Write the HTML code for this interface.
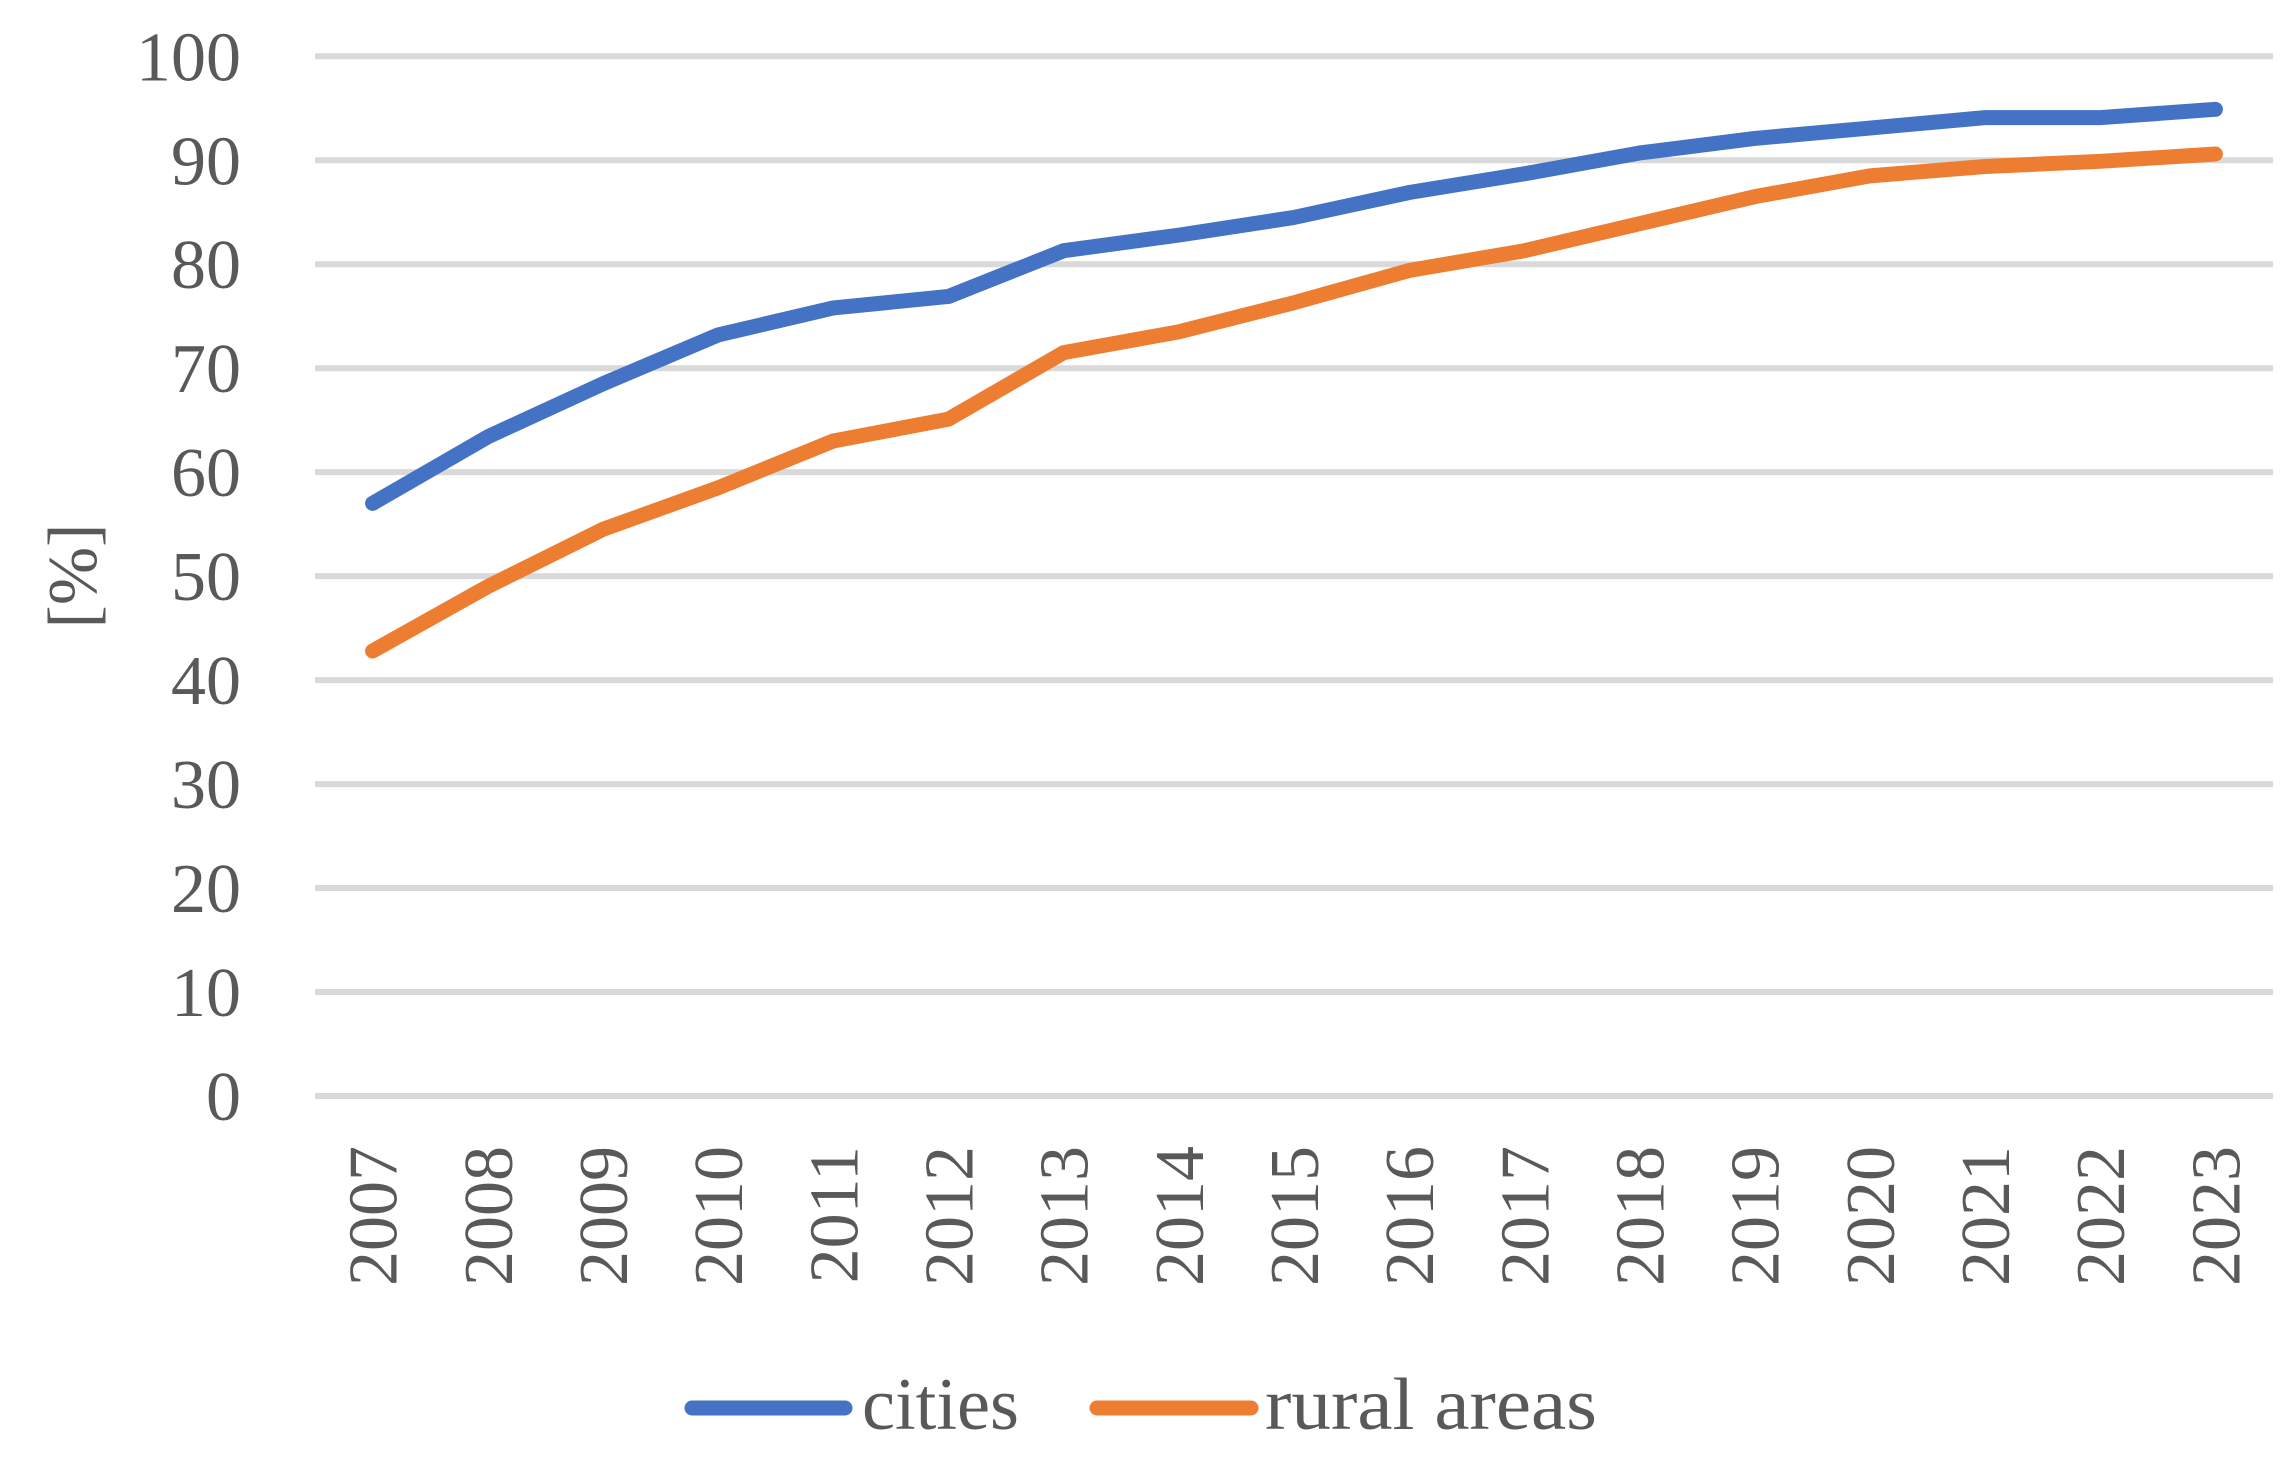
<!DOCTYPE html>
<html><head><meta charset="utf-8"><style>
html,body{margin:0;padding:0;background:#fff;}
svg text{font-family:"Liberation Serif",serif;fill:#595959;}
</style></head><body>
<svg id="chart" width="2296" height="1458" viewBox="0 0 2296 1458" xmlns="http://www.w3.org/2000/svg">
<g id="grid"></g>
<g id="yticks"></g>
<g id="xticks"></g>
<text transform="translate(96,576) rotate(-90)" text-anchor="middle" font-size="70">[%]</text>
<g id="series"></g>
<g>
<g>
<line x1="692" y1="1408" x2="845" y2="1408" stroke="#4472C4" stroke-width="15" stroke-linecap="round"/>
<text x="862" y="1429" font-size="74" textLength="157" lengthAdjust="spacingAndGlyphs">cities</text>
</g>
<g>
<line x1="1097" y1="1408" x2="1251" y2="1408" stroke="#ED7D31" stroke-width="15" stroke-linecap="round"/>
<text x="1265" y="1429" font-size="74" textLength="332" lengthAdjust="spacingAndGlyphs">rural areas</text>
</g>
</g>
</svg>
<script>
const years = ["2007","2008","2009","2010","2011","2012","2013","2014","2015","2016","2017","2018","2019","2020","2021","2022","2023"];
const cities = [57.0,63.4,68.5,73.2,75.8,76.9,81.3,82.8,84.5,86.9,88.7,90.7,92.1,93.1,94.1,94.1,94.9];
const rural = [42.8,49.0,54.5,58.5,63.0,65.1,71.5,73.5,76.3,79.4,81.3,83.9,86.5,88.5,89.4,89.9,90.6];
const yTicks = [0,10,20,30,40,50,60,70,80,90,100];

const NS="http://www.w3.org/2000/svg";
const pLeft=315,pRight=2273,pTop=56.3,pBottom=1096;
const band=(pRight-pLeft)/years.length;
function xPos(i){return pLeft+band*(i+0.5);}
function yPos(v){return pBottom-(v/100)*(pBottom-pTop);}

const grid=document.getElementById('grid');
const yt=document.getElementById('yticks');
yTicks.forEach(t=>{
  const l=document.createElementNS(NS,'line');
  l.setAttribute('x1',pLeft);l.setAttribute('x2',pRight);
  l.setAttribute('y1',yPos(t));l.setAttribute('y2',yPos(t));
  l.setAttribute('stroke','#D9D9D9');l.setAttribute('stroke-width','6');
  
  
  grid.appendChild(l);
  const tx=document.createElementNS(NS,'text');
  tx.setAttribute('x',241);tx.setAttribute('y',yPos(t)+24);
  tx.setAttribute('text-anchor','end');tx.setAttribute('font-size','70');
  tx.textContent=t;
  
  
  yt.appendChild(tx);
});
const xt=document.getElementById('xticks');
years.forEach((y,i)=>{
  const tx=document.createElementNS(NS,'text');
  const x=xPos(i)+24;
  tx.setAttribute('transform','translate('+x+',1146) rotate(-90)');
  tx.setAttribute('text-anchor','end');tx.setAttribute('font-size','70');
  tx.textContent=y;
  
  
  xt.appendChild(tx);
});
const sg=document.getElementById('series');
function drawLine(vals,color,name){
  const p=document.createElementNS(NS,'polyline');
  p.setAttribute('points',vals.map((v,i)=>xPos(i)+','+yPos(v)).join(' '));
  p.setAttribute('fill','none');p.setAttribute('stroke',color);
  p.setAttribute('stroke-width','15');p.setAttribute('stroke-linecap','round');
  p.setAttribute('stroke-linejoin','round');
  
  
  sg.appendChild(p);
}
drawLine(cities,'#4472C4','cities-line');
drawLine(rural,'#ED7D31','rural-areas-line');
</script>
</body></html>
